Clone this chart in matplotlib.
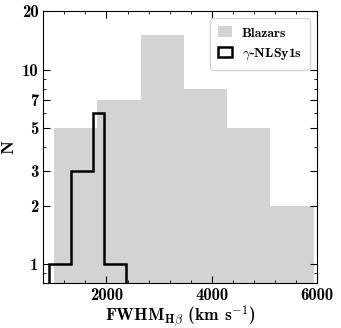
import matplotlib
matplotlib.use('Agg')
import matplotlib.pyplot as plt
from matplotlib.patches import Patch
from matplotlib.ticker import FixedLocator, MultipleLocator, NullFormatter

plt.rcParams['font.family'] = 'cmb10'
plt.rcParams['mathtext.fontset'] = 'cm'
plt.rcParams['axes.unicode_minus'] = False

# blazar FWHM(Hbeta) histogram
blazar_edges = [1003, 1824, 2646, 3468, 4289, 5111, 5932]
blazar_counts = [5, 7, 15, 8, 5, 2]

# gamma-ray NLSy1 histogram
nlsy1_edges = [908, 1319, 1736, 1957, 2368]
nlsy1_counts = [1, 3, 6, 1]

y_ticks = [1, 2, 3, 5, 7, 10, 20]
y_minor = [0.9, 4, 6, 8, 9]

fig = plt.figure(figsize=(3.41, 3.28), dpi=100)
ax = fig.add_axes([0.127, 0.137, 0.803, 0.829])

ax.stairs(blazar_counts, blazar_edges, baseline=0.5, fill=True,
          color='lightgray')
ax.stairs(nlsy1_counts, nlsy1_edges, baseline=0.5, fill=False,
          edgecolor='black', linewidth=1.8)

ax.set_yscale('log')
ax.set_xlim(800, 6000)
ax.set_ylim(0.8, 20)

ax.xaxis.set_major_locator(MultipleLocator(2000))
ax.xaxis.set_minor_locator(MultipleLocator(400))
ax.yaxis.set_major_locator(FixedLocator(y_ticks))
ax.yaxis.set_minor_locator(FixedLocator(y_minor))
ax.set_yticklabels([str(t) for t in y_ticks])
ax.yaxis.set_minor_formatter(NullFormatter())

ax.tick_params(which='both', direction='in', top=True, right=True, labelsize=12)
ax.tick_params(which='major', length=5)
ax.tick_params(which='minor', length=2.5)

ax.set_xlabel(r'FWHM$_{\mathbf{H}\beta}$ (km s$^{\mathbf{-1}}$)', fontsize=12.5, labelpad=0)
ax.set_ylabel('N', fontsize=13)

handles = [Patch(facecolor='lightgray', edgecolor='none', label='Blazars'),
           Patch(facecolor='none', edgecolor='black', linewidth=1.8,
                 label=r'$\gamma$-NLSy1s')]
ax.legend(handles=handles, loc='upper right', fontsize=10,
          handlelength=1.0, handleheight=0.8, handletextpad=0.7, borderpad=0.6)

fig.savefig('out.png', dpi=100)
